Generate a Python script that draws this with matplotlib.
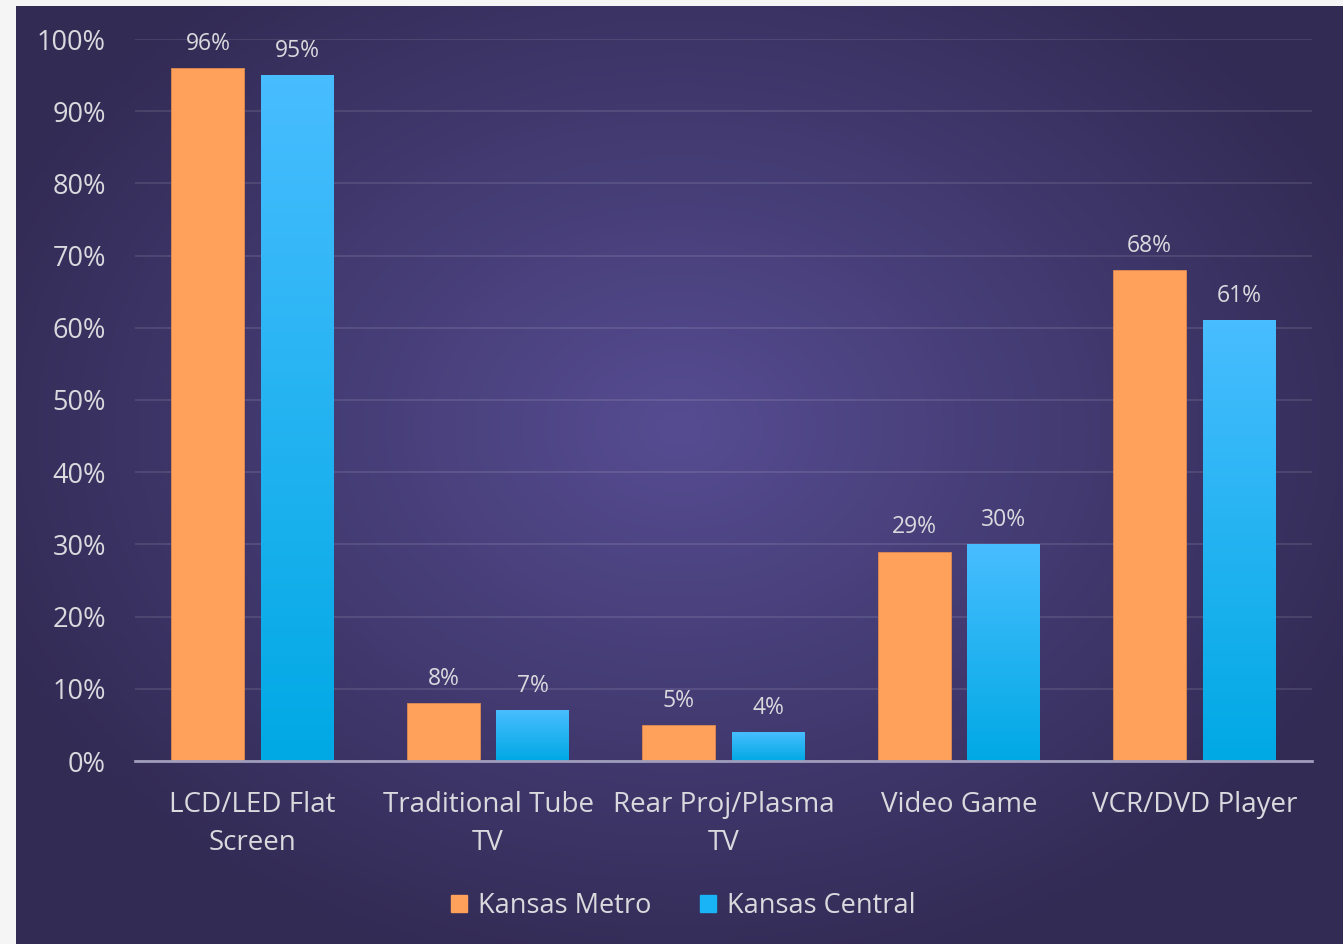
import matplotlib.pyplot as plt
import numpy as np
from matplotlib.patches import Rectangle

# ---------------------------------------------------
categories = ['LCD/LED Flat\nScreen', 'Traditional Tube\nTV', 'Rear Proj/Plasma\nTV',
              'Video Game', 'VCR/DVD Player']
metro = [96, 8, 5, 29, 68]
central = [95, 7, 4, 30, 61]
series_names = ['Kansas Metro', 'Kansas Central']
yticks = [0, 10, 20, 30, 40, 50, 60, 70, 80, 90, 100]
# ---------------------------------------------------

W, H = 1343, 944
plt.rcParams['font.family'] = ['Open Sans', 'DejaVu Sans']
txt = '#d9d9de'
orange = '#ffa15a'

fig = plt.figure(figsize=(W / 100, H / 100), dpi=100)
fig.patch.set_facecolor('#f5f5f5')

# background panel with radial gradient
bg = fig.add_axes([16 / W, 0, (W - 16) / W, (H - 6) / H])
yy, xx = np.mgrid[0:1:300j, 0:1:420j]
r = np.sqrt(((xx - 0.5) / 0.75) ** 2 + ((yy - 0.55) / 0.8) ** 2)
r = np.clip(r / 0.75, 0, 1)
c0 = np.array([0x56, 0x4c, 0x92]) / 255
c1 = np.array([0x32, 0x2b, 0x54]) / 255
img = c0[None, None, :] * (1 - r[..., None]) + c1[None, None, :] * r[..., None]
bg.imshow(img, aspect='auto', extent=[0, 1, 0, 1], origin='lower')
bg.axis('off')

ax = fig.add_axes([135 / W, (H - 761) / H, (1312 - 135) / W, (761 - 39) / H])
ax.patch.set_alpha(0)

x = np.arange(len(categories))
bw = 0.31
off = 0.19

ax.bar(x - off, metro, bw, color=orange, zorder=3, edgecolor='#e08a50', linewidth=0.6)

# blue bars with vertical gradient
grad = np.linspace(0, 1, 256)[:, None]
top = np.array([0x48, 0xbd, 0xff]) / 255
bot = np.array([0x00, 0xa9, 0xe4]) / 255
gimg = bot[None, None, :] * (1 - grad[..., None]) + top[None, None, :] * grad[..., None]
bars = ax.bar(x + off, central, bw, color='none', zorder=3)
for b in bars:
    x0, y0, w, h = b.get_x(), b.get_y(), b.get_width(), b.get_height()
    ax.imshow(gimg, extent=[x0, x0 + w, 0, h], origin='lower', aspect='auto', zorder=3)

for xi, v in zip(x, metro):
    ax.text(xi - off, v + 1.7, f'{v}%', ha='center', va='bottom', color=txt, fontsize=16.5)
for xi, v in zip(x, central):
    ax.text(xi + off, v + 1.7, f'{v}%', ha='center', va='bottom', color=txt, fontsize=16.5)

ax.set_xlim(-0.5, len(categories) - 0.5)
ax.set_ylim(0, 100)
ax.set_yticks(yticks)
ax.set_yticklabels([f'{t}%' for t in yticks], color=txt, fontsize=19.5)
ax.set_xticks(x)
ax.set_xticklabels(categories, color=txt, fontsize=20, linespacing=1.5)
ax.tick_params(length=0, pad=21, axis='y')
ax.tick_params(length=0, pad=21.5, axis='x')
ax.grid(axis='y', color='white', alpha=0.1, linewidth=1.5, zorder=0)
for s in ['top', 'right', 'left']:
    ax.spines[s].set_visible(False)
ax.spines['bottom'].set_color('#a09cbc')
ax.spines['bottom'].set_linewidth(2)
ax.spines['bottom'].set_zorder(4)

handles = [Rectangle((0, 0), 1, 1, color=orange), Rectangle((0, 0), 1, 1, color='#18b4f5')]
leg = fig.legend(handles, series_names, loc='center', bbox_to_anchor=(683 / W, (H - 906) / H),
                 ncol=2, frameon=False, fontsize=19.5, handlelength=0.6, handleheight=0.6,
                 handletextpad=0.4, columnspacing=1.8)
for t in leg.get_texts():
    t.set_color(txt)

plt.savefig('out.png', dpi=100, facecolor=fig.get_facecolor())
